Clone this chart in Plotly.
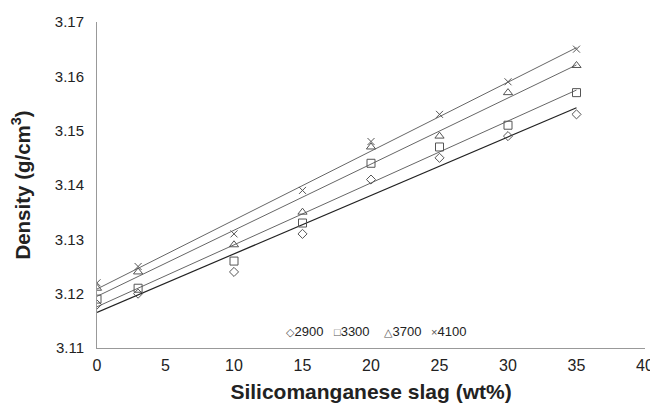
import numpy as np
import plotly.graph_objects as go

slag = [0, 3, 10, 15, 20, 25, 30, 35]
series_names = ["2900", "3300", "3700", "4100"]
d2900 = [3.118, 3.120, 3.124, 3.131, 3.141, 3.145, 3.149, 3.153]
d3300 = [3.119, 3.121, 3.126, 3.133, 3.144, 3.147, 3.151, 3.157]
d3700 = [3.121, 3.124, 3.129, 3.135, 3.147, 3.149, 3.157, 3.162]
d4100 = [3.122, 3.125, 3.131, 3.139, 3.148, 3.153, 3.159, 3.165]
legend_symbols = ["◇", "□", "△", "×"]
x_ticks = [0, 5, 10, 15, 20, 25, 30, 35, 40]
y_ticks = [3.11, 3.12, 3.13, 3.14, 3.15, 3.16, 3.17]

data = [d2900, d3300, d3700, d4100]
symbols = ["diamond-open", "square-open", "triangle-up-open", "x-thin-open"]
sizes = [7, 8, 8, 7]
line_colors = ["#222222", "#555555", "#555555", "#555555"]
line_widths = [1.2, 0.9, 0.9, 0.9]
legend_x = [0.343, 0.431, 0.521, 0.607]

fig = go.Figure()
for name, ys, sym, sz, lc, lw in zip(series_names, data, symbols, sizes, line_colors, line_widths):
    k, b = np.polyfit(slag, ys, 1)
    xs = [min(slag), max(slag)]
    fig.add_trace(go.Scatter(x=xs, y=[k * v + b for v in xs], mode="lines",
                             line=dict(color=lc, width=lw), showlegend=False, hoverinfo="skip"))
for name, ys, sym, sz in zip(series_names, data, symbols, sizes):
    fig.add_trace(go.Scatter(x=slag, y=ys, mode="markers", name=name, showlegend=False,
                             marker=dict(symbol=sym, size=sz, color="#555555",
                                         line=dict(color="#555555", width=1))))

for s, n, lx in zip(legend_symbols, series_names, legend_x):
    fig.add_annotation(x=lx, y=0.052, xref="paper", yref="paper", xanchor="left", yanchor="middle",
                       text=f"<span style='font-size:11px;color:#555555'>{s}</span>{n}", showarrow=False,
                       borderpad=0,
                       font=dict(size=13, color="#222222", family="Liberation Sans, DejaVu Sans, sans-serif"))

fig.update_layout(
    width=650, height=395,
    margin=dict(l=89, r=13, t=14, b=55),
    paper_bgcolor="white", plot_bgcolor="white",
    font=dict(family="Liberation Sans, Arial, sans-serif", color="#222222"),
    showlegend=False,
    xaxis=dict(range=[0, 40], tickvals=x_ticks, ticktext=[str(v) for v in x_ticks], automargin=False,
               showgrid=False, zeroline=False, showline=True, linecolor="#999999", linewidth=1,
               ticks="outside", ticklen=3, tickcolor="rgba(0,0,0,0)", tickfont=dict(size=16),
               title=dict(text="<b>Silicomanganese slag (wt%)</b>", font=dict(size=21), standoff=14)),
    yaxis=dict(range=[3.11, 3.17], tickvals=y_ticks, ticktext=[f"{v:.2f}" for v in y_ticks], automargin=False,
               showgrid=False, zeroline=False, showline=True, linecolor="#999999", linewidth=1,
               ticks="outside", ticklen=9, tickcolor="rgba(0,0,0,0)", tickfont=dict(size=15),
               title=dict(text="<b>Density (g/cm<sup>3</sup>)</b>", font=dict(size=20.5), standoff=23)),
)
fig.write_html("out.html")
